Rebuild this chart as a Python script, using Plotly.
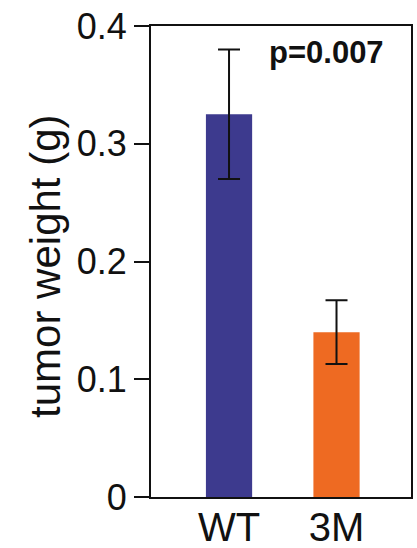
import plotly.graph_objects as go

# Tumor weight per group (mean ± error)
groups = ["WT", "3M"]
weights = [0.325, 0.140]
errors = [0.055, 0.027]
bar_colors = ["#3d3a8e", "#ee6a22"]

y_ticks = [0, 0.1, 0.2, 0.3, 0.4]
y_tick_labels = ["0", "0.1", "0.2", "0.3", "0.4"]
y_title = "tumor weight (g)"
p_label = "p=0.007"

font_family = "Liberation Sans, Arial, sans-serif"

fig = go.Figure(
    go.Bar(
        x=groups,
        y=weights,
        width=0.43,
        marker=dict(color=bar_colors, line=dict(width=0)),
        error_y=dict(
            type="data",
            array=errors,
            visible=True,
            color="#111111",
            thickness=2,
            width=11,
        ),
    )
)

fig.update_layout(
    width=417,
    height=548,
    margin=dict(l=151, r=6, t=26, b=51),
    paper_bgcolor="white",
    plot_bgcolor="white",
    showlegend=False,
    font=dict(family=font_family, color="#111111"),
    xaxis=dict(
        type="category",
        range=[-0.726, 1.693],
        automargin=False,
        showline=True,
        linecolor="#111111",
        linewidth=2,
        mirror=True,
        ticks="",
        showgrid=False,
        ticklabelstandoff=-6,
        tickfont=dict(size=40, family=font_family, color="#111111"),
        fixedrange=True,
    ),
    yaxis=dict(
        range=[0, 0.4],
        automargin=False,
        tickvals=y_ticks,
        ticktext=y_tick_labels,
        showline=True,
        linecolor="#111111",
        linewidth=2,
        mirror=True,
        ticks="outside",
        ticklen=15,
        tickwidth=2,
        tickcolor="#111111",
        showgrid=False,
        zeroline=False,
        tickfont=dict(size=36, family=font_family, color="#111111"),
        fixedrange=True,
    ),
    annotations=[
        # y-axis title, placed as rotated text left of the tick labels
        dict(
            text=y_title,
            xref="paper",
            yref="paper",
            x=-0.405,
            y=0.49,
            xanchor="center",
            yanchor="middle",
            textangle=-90,
            showarrow=False,
            font=dict(size=42, family=font_family, color="#111111"),
        ),
        dict(
            text="<b>" + p_label + "</b>",
            xref="paper",
            yref="paper",
            x=0.675,
            y=0.943,
            xanchor="center",
            yanchor="middle",
            showarrow=False,
            font=dict(size=31, family=font_family, color="#111111"),
        ),
    ],
)

fig.write_html("out.html")
